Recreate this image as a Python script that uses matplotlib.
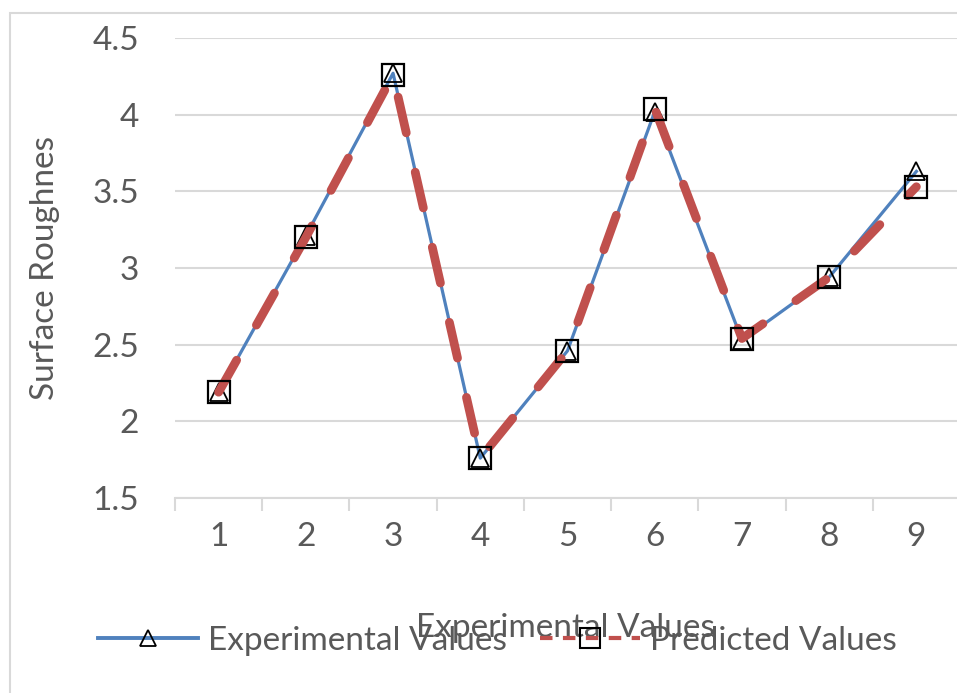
#!/usr/bin/env python3
"""Surface roughness: experimental vs predicted values per run."""

import matplotlib.pyplot as plt
from matplotlib.lines import Line2D

runs = [1, 2, 3, 4, 5, 6, 7, 8, 9]
experimental = [2.19, 3.21, 4.27, 1.76, 2.46, 4.02, 2.53, 2.94, 3.63]
predicted = [2.19, 3.20, 4.26, 1.76, 2.46, 4.04, 2.54, 2.94, 3.53]
y_ticks = [1.5, 2, 2.5, 3, 3.5, 4, 4.5]

BLUE = '#4F81BD'
RED = '#C0504D'
TEXT = '#595959'
GRID = '#D9D9D9'
FS = 24

plt.rcParams['font.family'] = ['Lato', 'DejaVu Sans']

fig = plt.figure(figsize=(9.57, 6.93), dpi=100)
ax = fig.add_axes([175 / 957, 1 - 498 / 693, 785 / 957, 460 / 693])

# outer chart border
fig.patches.append(plt.Rectangle((10 / 957, -0.1), 1.1, 1 - 13 / 693 + 0.1,
                                 transform=fig.transFigure, fill=False,
                                 edgecolor=GRID, linewidth=1.5))

x = list(range(len(runs)))
ax.plot(x, experimental, color=BLUE, linewidth=2.3, marker='^',
        markersize=13, markerfacecolor='none', markeredgecolor='black',
        markeredgewidth=1.3, zorder=3)
ax.plot(x, predicted, color=RED, linewidth=6.3, dashes=(4.2, 4.6),
        dash_capstyle='round', zorder=4)
ax.plot(x, predicted, linestyle='none', marker='s', markersize=16,
        markerfacecolor='none', markeredgecolor='black',
        markeredgewidth=1.6, zorder=5)

ax.set_xlim(-0.5, len(runs) - 0.5)
ax.set_ylim(1.5, 4.5)
ax.set_yticks(y_ticks)
ax.set_yticklabels([f'{v:g}' for v in y_ticks])
ax.set_xticks(x)
ax.set_xticklabels([str(r) for r in runs])
ax.set_xticks([i - 0.5 for i in x], minor=True)

ax.grid(axis='y', color=GRID, linewidth=1.5)
ax.set_axisbelow(True)
for side in ('left', 'right', 'top'):
    ax.spines[side].set_visible(False)
ax.spines['bottom'].set_color(GRID)
ax.spines['bottom'].set_linewidth(1.5)

ax.tick_params(axis='y', length=0, pad=26, labelsize=FS, labelcolor=TEXT)
ax.tick_params(axis='x', which='major', length=0, pad=17, labelsize=FS,
               labelcolor=TEXT)
ax.tick_params(axis='x', which='minor', length=9, width=1.5, color=GRID)

fig.text(45 / 957, 1 - 268 / 693, 'Surface Roughnes', rotation=90,
         ha='center', va='center', fontsize=FS, color=TEXT)
fig.text(565 / 957, 1 - 628 / 693, 'Experimental Values', ha='center',
         va='center', fontsize=FS, color=TEXT)

handles = [
    Line2D([], [], color=BLUE, linewidth=2.8, marker='^', markersize=12,
           markerfacecolor='none', markeredgecolor='black',
           markeredgewidth=1.3),
    Line2D([], [], color=RED, linewidth=3, dashes=(3, 2.5), marker='s',
           markersize=14, markerfacecolor='none', markeredgecolor='black',
           markeredgewidth=1.5),
]
fig.legend(handles, ['Experimental Values', 'Predicted Values'],
           loc='center left', bbox_to_anchor=(98 / 957, 1 - 641 / 693),
           ncol=2, frameon=False, numpoints=1, fontsize=FS,
           labelcolor=TEXT, handlelength=3.0, handletextpad=0.3,
           columnspacing=1.0, borderpad=0, borderaxespad=0)

fig.savefig('out.png', dpi=100)
